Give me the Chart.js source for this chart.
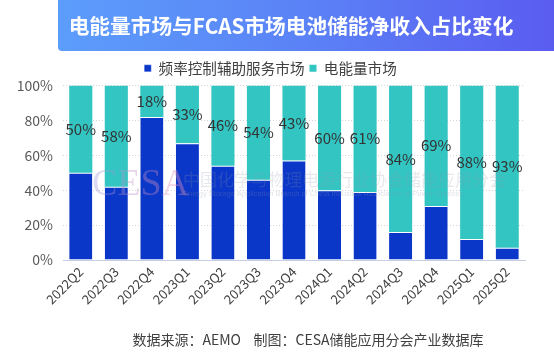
<!DOCTYPE html>
<html><head><meta charset="utf-8">
<script src="https://cdn.jsdelivr.net/npm/chart.js@4"></script>
<style>
html,body{margin:0;padding:0;background:#fff;}
#wrap{position:relative;width:554px;height:357px;overflow:hidden;font-family:"Noto Sans CJK SC","Noto Sans",sans-serif;}
#banner{position:absolute;left:58px;top:0;width:496px;height:51px;background:linear-gradient(90deg,#5C9DFB 0%,#5B82F6 50%,#5A5CF0 100%);border-bottom-left-radius:4px;}
#title{position:absolute;left:58px;top:0;width:466px;height:51px;line-height:51px;text-align:center;color:#fff;font-weight:bold;font-size:20.7px;}
#footer{position:absolute;left:0;width:554px;top:329px;text-align:center;font-size:14px;color:#404040;padding-left:62px;box-sizing:border-box;}
#wm1{position:absolute;left:92px;top:160px;font-family:"Liberation Serif","DejaVu Serif",serif;font-size:38px;letter-spacing:0px;background:linear-gradient(90deg,rgba(150,150,220,0.35),rgba(235,140,180,0.4));-webkit-background-clip:text;background-clip:text;color:transparent;}
#wm2{position:absolute;left:183px;top:166px;font-size:17px;color:rgba(140,150,170,0.22);}
#wm3{position:absolute;left:183px;top:189px;font-size:7.5px;color:rgba(140,150,170,0.28);font-family:"Liberation Sans",sans-serif;}
canvas{position:absolute;left:0;top:0;}
</style></head>
<body><div id="wrap">
<canvas id="c" width="554" height="357"></canvas>
<div id="banner"></div>
<div id="title">电能量市场与FCAS市场电池储能净收入占比变化</div>
<div id="wm1">CESA</div>
<div id="wm2">中国化学与物理电源行业协会储能应用分会</div>
<div id="wm3">Energy Storage Application Branch of China Industrial Association of Power Sources</div>
<div id="footer">数据来源：AEMO&nbsp;&nbsp;&nbsp;&nbsp;制图：CESA储能应用分会产业数据库</div>
</div>
<script>
const categories = ["2022Q2","2022Q3","2022Q4","2023Q1","2023Q2","2023Q3","2023Q4","2024Q1","2024Q2","2024Q3","2024Q4","2025Q1","2025Q2"];
const energyShare = [50,58,18,33,46,54,43,60,61,84,69,88,93];
const fcasShare = [50,42,82,67,54,46,57,40,39,16,31,12,7];
const yTicks = [0,20,40,60,80,100];
const seriesNames = ["频率控制辅助服务市场","电能量市场"];

const FONT = '"Noto Sans CJK SC","Noto Sans",sans-serif';

const labelPlugin = {
  id:'segLabels',
  afterDatasetsDraw(chart){
    const ctx = chart.ctx;
    const meta = chart.getDatasetMeta(1);
    ctx.save();
    ctx.font = '15px ' + FONT;
    ctx.fillStyle = '#333333';
    ctx.textAlign = 'center';
    ctx.textBaseline = 'middle';
    meta.data.forEach((el,i)=>{
      const p = el.getProps(['x','y','base'],true);
      ctx.fillText(energyShare[i]+'%', p.x, (p.y+p.base)/2);
    });
    ctx.restore();
  }
};

new Chart(document.getElementById('c'),{
  type:'bar',
  data:{
    labels:categories,
    datasets:[
      {label:seriesNames[0],data:fcasShare,backgroundColor:'#0A37C8',borderColor:'#ffffff',borderWidth:{top:1,left:0,right:0,bottom:0},borderSkipped:false,categoryPercentage:1,barPercentage:0.65},
      {label:seriesNames[1],data:energyShare,backgroundColor:'#33C5C2',borderWidth:0,categoryPercentage:1,barPercentage:0.65}
    ]
  },
  options:{
    responsive:false,
    animation:false,
    layout:{padding:{left:16,right:29,top:56,bottom:44}},
    plugins:{
      legend:{
        position:'top',
        labels:{boxWidth:7,boxHeight:7,padding:5,color:'#404040',font:{family:FONT,size:14.6}}
      },
      tooltip:{enabled:false}
    },
    scales:{
      x:{
        stacked:true,
        grid:{display:false,drawTicks:false},
        border:{color:'#C8CDE6',width:1},
        ticks:{color:'#404040',font:{family:FONT,size:13},maxRotation:45,minRotation:45,padding:4},
        afterFit(s){s.height=53;}
      },
      y:{
        stacked:true,
        min:0,max:100,
        afterBuildTicks(s){s.ticks = yTicks.map(v=>({value:v}));},
        grid:{color:'#D4D4D4',drawTicks:false,lineWidth:1},
        border:{display:false,dash:[1,2]},
        ticks:{color:'#595959',font:{family:FONT,size:14},padding:10,callback:v=>v+'%'},
        afterFit(s){s.width=47;}
      }
    }
  },
  plugins:[labelPlugin]
});
</script>
</body></html>
